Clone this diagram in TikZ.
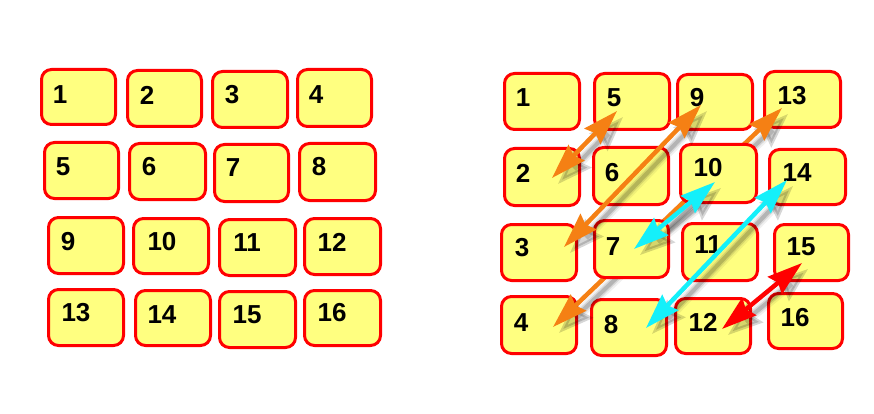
\documentclass[tikz,border=0pt]{standalone}
\usepackage{fontspec}
\setmainfont{Liberation Sans}
\usetikzlibrary{arrows.meta}
\definecolor{boxfill}{RGB}{255,255,128}
\definecolor{boxline}{RGB}{255,0,0}
\definecolor{arrorange}{RGB}{245,128,20}
\definecolor{arrcyan}{RGB}{20,240,250}
\definecolor{arrred}{RGB}{255,0,0}
\tikzset{
  cell/.style={draw=boxline, fill=boxfill, line width=3pt, rounded corners=10pt, inner sep=0pt},
  num/.style={font=\fontsize{26}{26}\selectfont\bfseries, inner sep=0pt},
  tips/.style={{Stealth[length=35pt,width=22pt,inset=4pt]}-{Stealth[length=35pt,width=22pt,inset=4pt]}},
  shtips/.style={{Stealth[length=35pt,width=25pt,inset=4pt]}-{Stealth[length=35pt,width=25pt,inset=4pt]}},
  arr/.style={line width=4.5pt, tips},
  shade/.style={black, draw opacity=#1, fill opacity=#1},
}
\newcommand\shadowed[3]{%
  \draw[shade=0.06, line width=11pt, shorten <=22pt, shorten >=22pt] ([shift={(6,6)}]#1) -- ([shift={(6,6)}]#2);
  \draw[shade=0.10, line width=7pt, shorten <=22pt, shorten >=22pt] ([shift={(6,6)}]#1) -- ([shift={(6,6)}]#2);
  \draw[shade=0.16, line width=4pt, shtips] ([shift={(6,6)}]#1) -- ([shift={(6,6)}]#2);
  \draw[arr, draw=#3, fill=#3] (#1) -- (#2);
}
\newcommand\cellbox[8]{%
  \node[cell, minimum width={(#4-#2-3)*1pt}, minimum height={(#5-#3-3)*1pt}] (#1) at ({(#2+#4)/2},{(#3+#5)/2}) {};
  \node[num] (t#1) at (#6,#7) {#8};
}
\begin{document}
\begin{tikzpicture}[x=1pt,y=-1pt]
\fill[white] (0,0) rectangle (874,414);
\useasboundingbox (0,0) rectangle (874,414);
% left grid
\cellbox{L1}{40}{68}{117}{126}{60}{95}{1}
\cellbox{L2}{126}{69}{203}{128}{147}{95}{2}
\cellbox{L3}{211}{70}{289}{129}{232}{95}{3}
\cellbox{L4}{296}{68}{373}{128}{316}{95}{4}
\cellbox{L5}{43}{141}{120}{200}{63}{167}{5}
\cellbox{L6}{128}{142}{207}{201}{149}{167}{6}
\cellbox{L7}{213}{143}{290}{203}{233}{168}{7}
\cellbox{L8}{298}{142}{377}{202}{319}{167}{8}
\cellbox{L9}{47}{216}{125}{275}{68}{242}{9}
\cellbox{L10}{132}{217}{210}{275}{162}{242}{10}
\cellbox{L11}{218}{218}{297}{277}{247}{243}{11}
\cellbox{L12}{303}{217}{382}{276}{332}{242}{12}
\cellbox{L13}{47}{288}{125}{347}{76}{313}{13}
\cellbox{L14}{134}{289}{212}{347}{162}{315}{14}
\cellbox{L15}{218}{290}{297}{349}{247}{315}{15}
\cellbox{L16}{303}{289}{382}{347}{332}{313}{16}
% right grid
\cellbox{R1}{503}{72}{581}{131}{523}{98}{1}
\cellbox{R5}{593}{72}{671}{131}{614}{98}{5}
\cellbox{R9}{676}{73}{754}{131}{697}{98}{9}
\cellbox{R13}{763}{70}{842}{129}{792}{96}{13}
\cellbox{R2}{503}{147}{581}{207}{523}{173}{2}
\cellbox{R6}{592}{146}{670}{206}{612}{173}{6}
\cellbox{R14}{768}{148}{847}{206}{797}{173}{14}
\cellbox{R3}{500}{223}{578}{282}{522}{248}{3}
\cellbox{R11}{681}{222}{759}{282}{708}{245}{11}
\cellbox{R15}{773}{223}{850}{282}{801}{247}{15}
\cellbox{R4}{500}{295}{578}{355}{521}{323}{4}
\cellbox{R8}{590}{298}{668}{357}{611}{325}{8}
\cellbox{R12}{674}{297}{752}{355}{703}{322}{12}
\cellbox{R16}{767}{292}{844}{350}{795}{318}{16}
% arrow end points
\coordinate (p5) at (617,111);
\coordinate (p2) at (552,178);
\coordinate (p9) at (701,105);
\coordinate (p3) at (564,247);
\coordinate (p13) at (782,108);
\coordinate (p4) at (553,327);
\coordinate (p10) at (715,182);
\coordinate (p7) at (634,249);
\coordinate (p14) at (787,180);
\coordinate (p8) at (646,328);
\coordinate (p15) at (802,263);
\coordinate (p12) at (722,329);
% arrow passing behind cells 10 and 7
\shadowed{p13}{p4}{arrorange}
\cellbox{R10}{679}{143}{758}{204}{708}{168}{10}
\cellbox{R7}{593}{219}{670}{279}{613}{247}{7}
% remaining arrows
\shadowed{p5}{p2}{arrorange}
\shadowed{p9}{p3}{arrorange}
\shadowed{p10}{p7}{arrcyan}
\shadowed{p14}{p8}{arrcyan}
\shadowed{p15}{p12}{arrred}
\end{tikzpicture}
\end{document}
